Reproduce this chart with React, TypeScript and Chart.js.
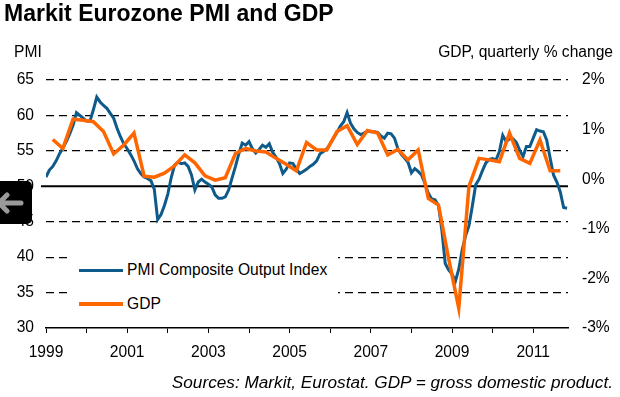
import React, { useEffect, useRef } from 'react';
import { Chart, registerables } from 'chart.js';

Chart.register(...registerables);

// Monthly PMI Composite Output Index, Jan 1999 - Nov 2011
const pmiStartYear = 1999;
const pmiValues = [
  51.3, 52.3, 52.8, 53.6, 54.6, 55.4, 56.3, 57.4, 58.6, 60.4, 60.0, 59.6,
  59.2, 59.2, 60.8, 62.6, 61.9, 61.4, 61.0, 60.3, 59.6, 58.2, 57.0, 56.0,
  55.3, 54.5, 53.6, 52.5, 51.8, 51.3, 51.1, 50.8, 49.6, 45.3, 46.0, 47.3,
  48.9, 51.2, 53.0, 53.4, 53.2, 53.3, 52.8, 51.6, 49.5, 50.6, 51.0, 50.6,
  50.3, 49.9, 48.8, 48.3, 48.3, 48.5, 49.5, 51.2, 52.8, 54.6, 56.1, 55.8,
  56.3, 55.3, 54.7, 55.2, 55.8, 55.5, 56.0, 54.8, 54.1, 53.2, 51.8, 52.4,
  53.3, 53.2, 52.4, 51.8, 52.1, 52.4, 52.8, 53.1, 53.6, 54.6, 54.9, 55.3,
  56.0, 56.8, 57.6, 58.5, 59.1, 60.4, 58.9, 58.1, 57.6, 57.3, 57.5, 57.8,
  57.7, 57.7, 57.6, 57.1, 56.8, 57.5, 57.4, 56.8, 55.3, 54.5, 54.0, 53.4,
  51.9, 52.5, 52.1, 51.6, 50.4, 49.0, 48.2, 48.1, 47.3, 43.8, 39.1, 38.2,
  37.6, 36.6, 38.3, 41.0, 43.0, 44.4, 47.2, 50.2, 51.0, 52.2, 53.3, 53.8,
  53.9, 53.7, 54.9, 57.2, 56.3, 56.7, 56.7, 56.2, 55.1, 54.2, 55.6, 55.6,
  56.8, 58.0, 57.8, 57.7, 56.5, 54.0, 51.6, 50.6, 49.2, 47.0, 46.9,
];

// Quarterly GDP % change, Q1 1999 - Q3 2011 (plotted at third month of quarter)
const gdpStartYear = 1999;
const gdpValues = [
  0.80, 0.62, 1.21, 1.19, 1.16, 0.96, 0.51, 0.69, 0.93, 0.06,
  0.04, 0.12, 0.27, 0.49, 0.33, 0.07, -0.02, 0.03, 0.52, 0.62,
  0.57, 0.55, 0.42, 0.30, 0.17, 0.74, 0.59, 0.59, 0.96, 1.08,
  0.70, 0.98, 0.93, 0.49, 0.60, 0.39, 0.59, -0.39, -0.52, -1.6,
  -2.6, -0.15, 0.42, 0.39, 0.35, 0.93, 0.42, 0.32, 0.79, 0.17,
  0.17,
];

const yearLabels = [1999, 2001, 2003, 2005, 2007, 2009, 2011];
const pmiTicks = [30, 35, 40, 45, 50, 55, 60, 65];
const gdpTicks = [-3, -2, -1, 0, 1, 2];
const xMin = 1999;
const xMax = 2011.857;

const FONT = '"Liberation Sans", Arial, sans-serif';
const BLUE = '#0e5a8a';
const ORANGE = '#ff6600';

const refLine = {
  id: 'refLine',
  beforeDatasetsDraw(chart: any) {
    const y = chart.scales.y.getPixelForValue(50);
    const ctx = chart.ctx;
    ctx.save();
    ctx.strokeStyle = '#000';
    ctx.lineWidth = 2;
    ctx.beginPath();
    ctx.moveTo(41, y);
    ctx.lineTo(chart.chartArea.right, y);
    ctx.stroke();
    ctx.restore();
  },
};

export default function App() {
  const ref = useRef<HTMLCanvasElement>(null);

  useEffect(() => {
    const pmiData = pmiValues.map((v, i) => ({ x: pmiStartYear + i / 12, y: v }));
    const gdpData = gdpValues.map((v, i) => ({ x: gdpStartYear + (2 + 3 * i) / 12, y: v }));
    const chart = new Chart(ref.current as HTMLCanvasElement, {
      type: 'line',
      data: {
        datasets: [
          {
            label: 'GDP',
            data: gdpData,
            yAxisID: 'y1',
            borderColor: ORANGE,
            borderWidth: 3.5,
            pointRadius: 0,
            tension: 0,
            order: 0,
          },
          {
            label: 'PMI Composite Output Index',
            data: pmiData,
            yAxisID: 'y',
            borderColor: BLUE,
            borderWidth: 3,
            pointRadius: 0,
            tension: 0,
            order: 1,
          },
        ],
      },
      options: {
        responsive: false,
        animation: false,
        devicePixelRatio: 1,
        layout: { padding: { top: 80, bottom: 34, left: 0, right: 0 } },
        plugins: { legend: { display: false }, tooltip: { enabled: false }, title: { display: false } },
        scales: {
          x: {
            type: 'linear',
            min: xMin,
            max: xMax,
            afterFit: (s: any) => { s.height = 35; },
            ticks: {
              stepSize: 1,
              includeBounds: false,
              autoSkip: false,
              maxRotation: 0,
              padding: 10,
              color: '#000',
              font: { family: FONT, size: 15.6 },
              callback: (v: any) => (yearLabels.includes(Number(v)) ? String(v) : ''),
            },
            grid: { drawOnChartArea: false, drawTicks: true, tickLength: 5, color: '#000', lineWidth: 1 },
            border: { display: true, color: '#000', width: 1.5 },
          },
          y: {
            position: 'left',
            min: 30,
            max: 65,
            afterFit: (s: any) => { s.width = 46; },
            afterBuildTicks: (s: any) => { s.ticks = pmiTicks.map((v) => ({ value: v })); },
            ticks: { padding: 12, color: '#000', font: { family: FONT, size: 15.6 } },
            grid: {
              drawTicks: false,
              lineWidth: 1.2,
              color: (c: any) => (c.tick && (c.tick.value === 50 || c.tick.value === 30) ? 'rgba(0,0,0,0)' : '#000'),
            },
            border: { display: false, dash: [8, 5] },
          },
          y1: {
            position: 'right',
            min: -3,
            max: 2,
            afterFit: (s: any) => { s.width = 52; },
            afterBuildTicks: (s: any) => { s.ticks = gdpTicks.map((v) => ({ value: v })); },
            ticks: {
              padding: 14,
              color: '#000',
              font: { family: FONT, size: 15.6 },
              callback: (v: any) => `${v}%`,
            },
            grid: { drawOnChartArea: false, drawTicks: false },
            border: { display: false },
          },
        },
      },
      plugins: [refLine],
    });
    return () => chart.destroy();
  }, []);

  const txt: React.CSSProperties = { position: 'absolute', fontFamily: FONT, color: '#000', whiteSpace: 'nowrap', lineHeight: 1 };

  return (
    <div style={{ position: 'absolute', left: 0, top: 0, width: 620, height: 397, background: '#fff', overflow: 'hidden' }}>
      <canvas ref={ref} width={620} height={397} style={{ position: 'absolute', left: 0, top: 0, width: 620, height: 397 }} />
      <div style={{ ...txt, left: 4, top: 2, fontSize: 23, fontWeight: 'bold' }}>Markit Eurozone PMI and GDP</div>
      <div style={{ ...txt, left: 14, top: 44, fontSize: 15.6 }}>PMI</div>
      <div style={{ ...txt, right: 7, top: 44, fontSize: 15.6 }}>GDP, quarterly % change</div>
      <div style={{ ...txt, right: 7, top: 374, fontSize: 17.2, fontStyle: 'italic' }}>
        Sources: Markit, Eurostat. GDP = gross domestic product.
      </div>
      <div style={{ position: 'absolute', left: 70, top: 236, width: 268, height: 82, background: '#fff' }}>
        <div style={{ position: 'absolute', left: 9, top: 33, width: 44, height: 3, background: BLUE }} />
        <div style={{ ...txt, left: 57, top: 26, fontSize: 15.6 }}>PMI Composite Output Index</div>
        <div style={{ position: 'absolute', left: 9, top: 66, width: 44, height: 3.5, background: ORANGE }} />
        <div style={{ ...txt, left: 57, top: 60, fontSize: 15.6 }}>GDP</div>
      </div>
      <div style={{ position: 'absolute', left: -10, top: 181, width: 42, height: 43, background: '#000', borderRadius: 5 }}>
        <svg width={42} height={43} style={{ position: 'absolute', left: 0, top: 0 }}>
          <path d="M 9 22 L 31 22 M 9 22 L 17 14 M 9 22 L 17 30" stroke="#9a9a9a" strokeWidth={5} strokeLinecap="round" strokeLinejoin="round" fill="none" />
        </svg>
      </div>
    </div>
  );
}
